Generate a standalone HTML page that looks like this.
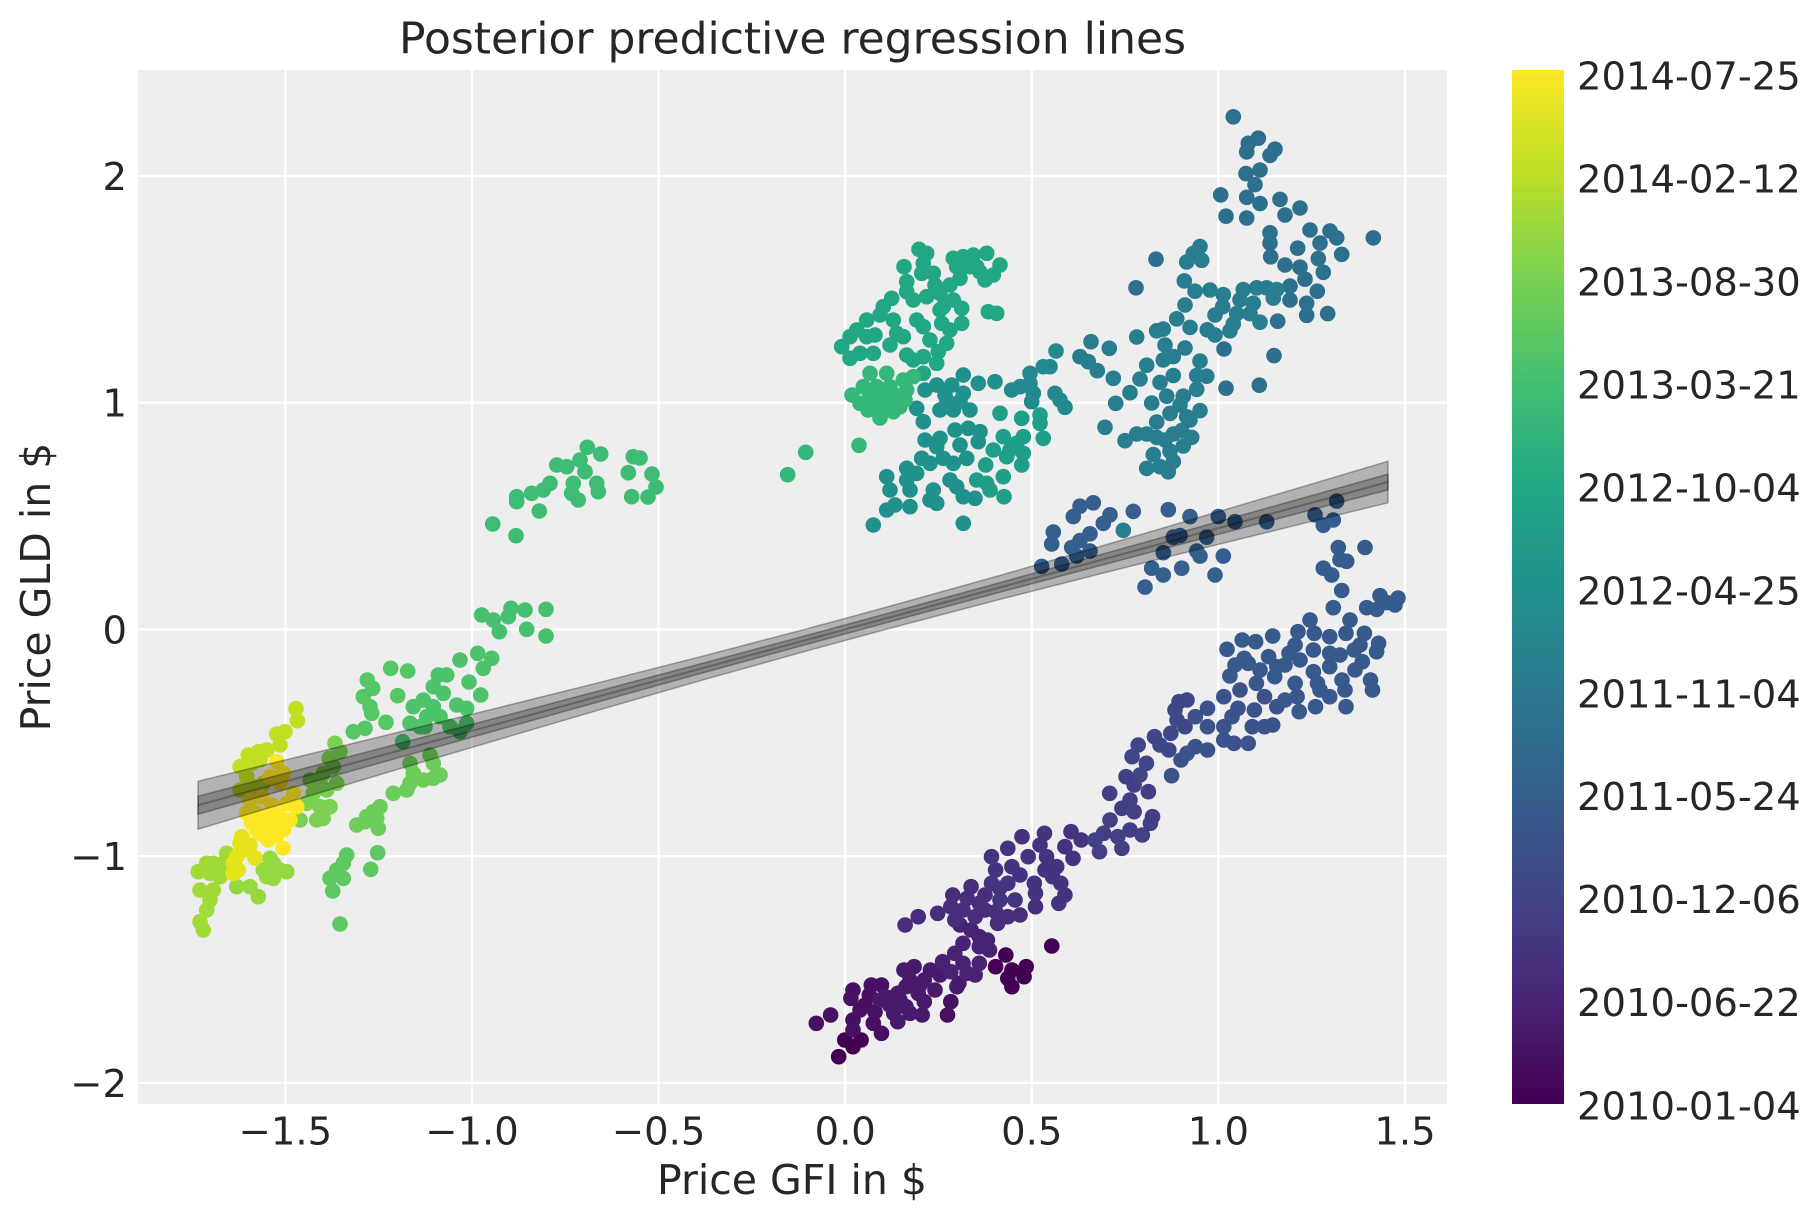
<!DOCTYPE html>
<html><head><meta charset="utf-8"><style>
html,body{margin:0;padding:0;background:#fff}
svg{display:block}
text{font-family:"DejaVu Sans","Liberation Sans",sans-serif;fill:#262626}
.t{font-size:38.5px}
</style></head><body>
<svg width="1819" height="1223" viewBox="0 0 1819 1223" xmlns="http://www.w3.org/2000/svg">
<defs>
<linearGradient id="vir" x1="0" y1="1" x2="0" y2="0">
<stop offset="0" stop-color="#440154"/><stop offset="0.1" stop-color="#482475"/><stop offset="0.2" stop-color="#414487"/><stop offset="0.3" stop-color="#355f8d"/><stop offset="0.4" stop-color="#2a788e"/><stop offset="0.5" stop-color="#21918c"/><stop offset="0.6" stop-color="#22a884"/><stop offset="0.7" stop-color="#44bf70"/><stop offset="0.8" stop-color="#7ad151"/><stop offset="0.9" stop-color="#bddf26"/><stop offset="1" stop-color="#fde725"/>
</linearGradient>
<clipPath id="ax"><rect x="138" y="70" width="1309" height="1034"/></clipPath>
</defs>
<rect width="1819" height="1223" fill="#fff"/>
<rect x="138" y="70" width="1309" height="1034" fill="#eeeeee"/>
<g stroke="#fff" stroke-width="2.2">
<line x1="285.4" y1="70" x2="285.4" y2="1104"/><line x1="472" y1="70" x2="472" y2="1104"/><line x1="658.6" y1="70" x2="658.6" y2="1104"/><line x1="845.2" y1="70" x2="845.2" y2="1104"/><line x1="1031.8" y1="70" x2="1031.8" y2="1104"/><line x1="1218.4" y1="70" x2="1218.4" y2="1104"/><line x1="1405" y1="70" x2="1405" y2="1104"/>
<line x1="138" y1="176" x2="1447" y2="176"/><line x1="138" y1="402.7" x2="1447" y2="402.7"/><line x1="138" y1="629.4" x2="1447" y2="629.4"/><line x1="138" y1="856.1" x2="1447" y2="856.1"/><line x1="138" y1="1082.8" x2="1447" y2="1082.8"/>
</g>
<g clip-path="url(#ax)">
<g fill="#440154"><circle cx="1051.8" cy="946" r="7.8"/><circle cx="1005.8" cy="955" r="7.8"/><circle cx="995.6" cy="966.7" r="7.8"/><circle cx="1011.9" cy="970" r="7.8"/><circle cx="1026.2" cy="966.7" r="7.8"/><circle cx="1024.1" cy="976.7" r="7.8"/><circle cx="1007.8" cy="978.3" r="7.8"/><circle cx="1011.9" cy="986.7" r="7.8"/><circle cx="838.7" cy="1056.7" r="7.8"/><circle cx="853" cy="1046.7" r="7.8"/><circle cx="844.8" cy="1040" r="7.8"/><circle cx="861.1" cy="1040" r="7.8"/></g>
<g fill="#471063"><circle cx="816.3" cy="1023.3" r="7.8"/><circle cx="830.6" cy="1015" r="7.8"/><circle cx="853" cy="1020" r="7.8"/><circle cx="873.3" cy="1023.3" r="7.8"/><circle cx="881.5" cy="1033.3" r="7.8"/><circle cx="853" cy="1030" r="7.8"/><circle cx="950.8" cy="1001.7" r="7.8"/><circle cx="947.5" cy="1015" r="7.8"/><circle cx="853" cy="990" r="7.8"/><circle cx="850.9" cy="998.3" r="7.8"/><circle cx="869.3" cy="995" r="7.8"/><circle cx="871.3" cy="985" r="7.8"/><circle cx="881.5" cy="985" r="7.8"/><circle cx="865" cy="1005" r="7.8"/><circle cx="875" cy="1012" r="7.8"/><circle cx="860" cy="1010" r="7.8"/></g>
<g fill="#481a6c"><circle cx="885.6" cy="996.7" r="7.8"/><circle cx="897.8" cy="993.3" r="7.8"/><circle cx="918.2" cy="993.3" r="7.8"/><circle cx="924.3" cy="1001.7" r="7.8"/><circle cx="889.6" cy="1005" r="7.8"/><circle cx="906" cy="1006.7" r="7.8"/><circle cx="893.7" cy="1013.3" r="7.8"/><circle cx="910" cy="1013.3" r="7.8"/><circle cx="922.2" cy="1015" r="7.8"/><circle cx="897.8" cy="1021.7" r="7.8"/><circle cx="910" cy="980" r="7.8"/><circle cx="906" cy="986.7" r="7.8"/><circle cx="914.1" cy="966.7" r="7.8"/><circle cx="903.9" cy="970" r="7.8"/><circle cx="924.3" cy="980" r="7.8"/><circle cx="930.4" cy="970" r="7.8"/><circle cx="958.9" cy="983.3" r="7.8"/><circle cx="956.9" cy="986.7" r="7.8"/><circle cx="900" cy="1000" r="7.8"/><circle cx="935" cy="990" r="7.8"/><circle cx="940" cy="975" r="7.8"/><circle cx="920" cy="985" r="7.8"/><circle cx="880" cy="1000" r="7.8"/></g>
<g fill="#482374"><circle cx="954.8" cy="953.3" r="7.8"/><circle cx="942.6" cy="961.7" r="7.8"/><circle cx="963" cy="963.3" r="7.8"/><circle cx="979.3" cy="963.3" r="7.8"/><circle cx="950.8" cy="971.7" r="7.8"/><circle cx="967.1" cy="973.3" r="7.8"/><circle cx="975.2" cy="975" r="7.8"/><circle cx="963" cy="943.3" r="7.8"/><circle cx="979.3" cy="946.7" r="7.8"/><circle cx="989.5" cy="950" r="7.8"/><circle cx="971.1" cy="930" r="7.8"/><circle cx="979.3" cy="936.7" r="7.8"/><circle cx="987.4" cy="940" r="7.8"/><circle cx="960" cy="925" r="7.8"/></g>
<g fill="#472d7b"><circle cx="918.2" cy="916.7" r="7.8"/><circle cx="905.1" cy="925" r="7.8"/><circle cx="937.7" cy="913.3" r="7.8"/><circle cx="954.8" cy="920" r="7.8"/><circle cx="975.2" cy="916.7" r="7.8"/><circle cx="997.6" cy="923.3" r="7.8"/><circle cx="950.8" cy="906.7" r="7.8"/><circle cx="963" cy="910" r="7.8"/><circle cx="995.6" cy="911.7" r="7.8"/><circle cx="1007.8" cy="916.7" r="7.8"/><circle cx="971.1" cy="886.7" r="7.8"/><circle cx="952.8" cy="895" r="7.8"/><circle cx="967.1" cy="898.3" r="7.8"/><circle cx="979.3" cy="903.3" r="7.8"/><circle cx="1020" cy="915" r="7.8"/><circle cx="1035.5" cy="906.7" r="7.8"/><circle cx="985" cy="910" r="7.8"/><circle cx="985" cy="895" r="7.8"/></g>
<g fill="#46337f"><circle cx="991.5" cy="856.7" r="7.8"/><circle cx="1007.8" cy="848.3" r="7.8"/><circle cx="1022" cy="836.7" r="7.8"/><circle cx="1028.2" cy="856.7" r="7.8"/><circle cx="1046.5" cy="856.7" r="7.8"/><circle cx="1056.7" cy="866.7" r="7.8"/><circle cx="995.6" cy="870" r="7.8"/><circle cx="1011.9" cy="866.7" r="7.8"/><circle cx="991.5" cy="883.3" r="7.8"/><circle cx="1007.8" cy="883.3" r="7.8"/><circle cx="1034.3" cy="883.3" r="7.8"/><circle cx="1052.6" cy="876.7" r="7.8"/><circle cx="1060.8" cy="883.3" r="7.8"/><circle cx="1064.9" cy="895" r="7.8"/><circle cx="1058.8" cy="903.3" r="7.8"/><circle cx="1035.5" cy="893.3" r="7.8"/><circle cx="999.7" cy="888.3" r="7.8"/><circle cx="1044.5" cy="833.3" r="7.8"/><circle cx="1071" cy="831.7" r="7.8"/><circle cx="1064.9" cy="846.7" r="7.8"/><circle cx="1073" cy="858.3" r="7.8"/><circle cx="1081.2" cy="840" r="7.8"/><circle cx="1000" cy="900" r="7.8"/><circle cx="1015" cy="900" r="7.8"/><circle cx="1045" cy="870" r="7.8"/><circle cx="1040" cy="845" r="7.8"/><circle cx="1020" cy="875" r="7.8"/></g>
<g fill="#423f85"><circle cx="1103.6" cy="833.3" r="7.8"/><circle cx="1117.8" cy="836.7" r="7.8"/><circle cx="1121.9" cy="848.3" r="7.8"/><circle cx="1099.5" cy="851.7" r="7.8"/><circle cx="1109.7" cy="793.3" r="7.8"/><circle cx="1121.9" cy="808.3" r="7.8"/><circle cx="1134.1" cy="811.7" r="7.8"/><circle cx="1152.5" cy="816.7" r="7.8"/><circle cx="1150.4" cy="823.3" r="7.8"/><circle cx="1142.3" cy="835" r="7.8"/><circle cx="1126" cy="776.7" r="7.8"/><circle cx="1134.1" cy="785" r="7.8"/><circle cx="1148.4" cy="791.7" r="7.8"/><circle cx="1110" cy="820" r="7.8"/><circle cx="1130" cy="800" r="7.8"/><circle cx="1130" cy="830" r="7.8"/><circle cx="1095" cy="840" r="7.8"/></g>
<g fill="#3f4788"><circle cx="1132.1" cy="756.7" r="7.8"/><circle cx="1146.4" cy="763.3" r="7.8"/><circle cx="1138.2" cy="745" r="7.8"/><circle cx="1154.5" cy="736.7" r="7.8"/><circle cx="1168.8" cy="750" r="7.8"/><circle cx="1170.8" cy="733.3" r="7.8"/><circle cx="1177" cy="720" r="7.8"/><circle cx="1185" cy="726.7" r="7.8"/><circle cx="1175" cy="710" r="7.8"/><circle cx="1179" cy="701.7" r="7.8"/><circle cx="1187" cy="700" r="7.8"/><circle cx="1140" cy="775" r="7.8"/><circle cx="1160" cy="745" r="7.8"/></g>
<g fill="#3b528b"><circle cx="1171.6" cy="775.7" r="7.8"/><circle cx="1181" cy="760" r="7.8"/><circle cx="1187.1" cy="753.3" r="7.8"/><circle cx="1195.3" cy="746.7" r="7.8"/><circle cx="1207.5" cy="750" r="7.8"/><circle cx="1223.8" cy="740" r="7.8"/><circle cx="1234" cy="743.3" r="7.8"/><circle cx="1248.2" cy="743.3" r="7.8"/><circle cx="1207.5" cy="726.7" r="7.8"/><circle cx="1223.8" cy="726.7" r="7.8"/><circle cx="1252.3" cy="726.7" r="7.8"/><circle cx="1264.5" cy="726.7" r="7.8"/><circle cx="1272.7" cy="725" r="7.8"/><circle cx="1195.3" cy="716.7" r="7.8"/><circle cx="1207.5" cy="708.3" r="7.8"/><circle cx="1232" cy="716.7" r="7.8"/><circle cx="1238" cy="708.3" r="7.8"/><circle cx="1254.4" cy="710" r="7.8"/><circle cx="1223.8" cy="696.7" r="7.8"/><circle cx="1240" cy="690" r="7.8"/><circle cx="1264.5" cy="696.7" r="7.8"/><circle cx="1276.8" cy="706.7" r="7.8"/></g>
<g fill="#38598c"><circle cx="1297.1" cy="696.7" r="7.8"/><circle cx="1315.5" cy="706.7" r="7.8"/><circle cx="1346" cy="706.7" r="7.8"/><circle cx="1329.7" cy="696.7" r="7.8"/><circle cx="1299.2" cy="711.7" r="7.8"/><circle cx="1229.9" cy="676" r="7.8"/><circle cx="1274.7" cy="676.7" r="7.8"/><circle cx="1256.4" cy="683.3" r="7.8"/><circle cx="1295.1" cy="683.3" r="7.8"/><circle cx="1317.5" cy="683.3" r="7.8"/><circle cx="1342" cy="680" r="7.8"/><circle cx="1370.5" cy="680" r="7.8"/><circle cx="1372.5" cy="690" r="7.8"/><circle cx="1276.8" cy="666.7" r="7.8"/><circle cx="1313.4" cy="671.7" r="7.8"/><circle cx="1329.7" cy="666.7" r="7.8"/><circle cx="1244.2" cy="658.3" r="7.8"/><circle cx="1248.2" cy="663.3" r="7.8"/><circle cx="1268.6" cy="656.7" r="7.8"/><circle cx="1289" cy="653.3" r="7.8"/><circle cx="1295.1" cy="645" r="7.8"/><circle cx="1313.4" cy="650" r="7.8"/><circle cx="1329.7" cy="653.3" r="7.8"/><circle cx="1354.2" cy="650" r="7.8"/><circle cx="1362.3" cy="661.7" r="7.8"/><circle cx="1227" cy="649.3" r="7.8"/><circle cx="1242.2" cy="640" r="7.8"/><circle cx="1255.6" cy="641.7" r="7.8"/><circle cx="1272.7" cy="636" r="7.8"/><circle cx="1298" cy="631.7" r="7.8"/><circle cx="1314.3" cy="633.3" r="7.8"/><circle cx="1329.7" cy="636.7" r="7.8"/><circle cx="1346" cy="633.3" r="7.8"/><circle cx="1364.4" cy="633.3" r="7.8"/><circle cx="1378.6" cy="643.3" r="7.8"/><circle cx="1376.6" cy="651.7" r="7.8"/><circle cx="1285" cy="665" r="7.8"/><circle cx="1300" cy="660" r="7.8"/><circle cx="1345" cy="690" r="7.8"/><circle cx="1355" cy="670" r="7.8"/><circle cx="1285" cy="700" r="7.8"/><circle cx="1260" cy="670" r="7.8"/><circle cx="1235" cy="665" r="7.8"/><circle cx="1320" cy="690" r="7.8"/><circle cx="1360" cy="645" r="7.8"/><circle cx="1340" cy="655" r="7.8"/><circle cx="1350" cy="620" r="7.8"/><circle cx="1310" cy="620" r="7.8"/></g>
<g fill="#365c8d"><circle cx="1333.3" cy="607.7" r="7.8"/><circle cx="1366.7" cy="607.7" r="7.8"/><circle cx="1380" cy="595.7" r="7.8"/><circle cx="1386.7" cy="602.6" r="7.8"/><circle cx="1376.7" cy="609.4" r="7.8"/><circle cx="1395" cy="605" r="7.8"/><circle cx="1398" cy="598" r="7.8"/><circle cx="1341.7" cy="590.5" r="7.8"/><circle cx="1323.3" cy="568.2" r="7.8"/><circle cx="1331.7" cy="575" r="7.8"/><circle cx="1338.3" cy="547.5" r="7.8"/><circle cx="1365" cy="547.5" r="7.8"/><circle cx="1340" cy="559.6" r="7.8"/><circle cx="1346.7" cy="561.3" r="7.8"/><circle cx="1315" cy="514.8" r="7.8"/><circle cx="1336.7" cy="501.1" r="7.8"/><circle cx="1333.3" cy="520" r="7.8"/><circle cx="1323.3" cy="525.2" r="7.8"/></g>
<g fill="#355f8d"><circle cx="1080" cy="506.2" r="7.8"/><circle cx="1093.3" cy="502.8" r="7.8"/><circle cx="1073.3" cy="516.6" r="7.8"/><circle cx="1110" cy="514.8" r="7.8"/><circle cx="1133.3" cy="511.4" r="7.8"/><circle cx="1168.3" cy="509.7" r="7.8"/><circle cx="1190" cy="516.6" r="7.8"/><circle cx="1218.3" cy="516.6" r="7.8"/><circle cx="1235" cy="521.7" r="7.8"/><circle cx="1266.7" cy="521.7" r="7.8"/><circle cx="1053.3" cy="532" r="7.8"/><circle cx="1051.7" cy="544" r="7.8"/><circle cx="1090" cy="533.8" r="7.8"/><circle cx="1103.3" cy="523.4" r="7.8"/><circle cx="1080" cy="540.6" r="7.8"/><circle cx="1071.7" cy="547.5" r="7.8"/><circle cx="1090" cy="551" r="7.8"/><circle cx="1076.7" cy="556.1" r="7.8"/><circle cx="1061.7" cy="564" r="7.8"/><circle cx="1041.7" cy="566.4" r="7.8"/><circle cx="1180" cy="535.5" r="7.8"/><circle cx="1173.3" cy="537.2" r="7.8"/><circle cx="1206.7" cy="537.2" r="7.8"/><circle cx="1196.7" cy="551" r="7.8"/><circle cx="1200" cy="556.1" r="7.8"/><circle cx="1163.3" cy="552.7" r="7.8"/><circle cx="1223.3" cy="556.1" r="7.8"/><circle cx="1151.7" cy="568.2" r="7.8"/><circle cx="1163.3" cy="575" r="7.8"/><circle cx="1181.7" cy="568.2" r="7.8"/><circle cx="1215" cy="575" r="7.8"/><circle cx="1145" cy="587.1" r="7.8"/></g>
<g fill="#2d708e"><circle cx="1233.3" cy="116.8" r="7.8"/><circle cx="1248.3" cy="143.3" r="7.8"/><circle cx="1258.3" cy="138.2" r="7.8"/><circle cx="1246.7" cy="151.9" r="7.8"/><circle cx="1275" cy="149.2" r="7.8"/><circle cx="1270" cy="155.4" r="7.8"/><circle cx="1246" cy="173.6" r="7.8"/><circle cx="1255" cy="184.6" r="7.8"/><circle cx="1220.7" cy="194.9" r="7.8"/><circle cx="1246.7" cy="197.3" r="7.8"/><circle cx="1260" cy="203.5" r="7.8"/><circle cx="1280" cy="199.4" r="7.8"/><circle cx="1300" cy="208" r="7.8"/><circle cx="1226" cy="216.2" r="7.8"/><circle cx="1246.7" cy="218" r="7.8"/><circle cx="1270" cy="232.8" r="7.8"/><circle cx="1270" cy="243.1" r="7.8"/><circle cx="1270.7" cy="256.8" r="7.8"/><circle cx="1330" cy="231" r="7.8"/><circle cx="1336.7" cy="237.9" r="7.8"/><circle cx="1373.3" cy="237.9" r="7.8"/><circle cx="1297.7" cy="248.2" r="7.8"/><circle cx="1320" cy="243.1" r="7.8"/><circle cx="1341.7" cy="254.4" r="7.8"/><circle cx="1318.3" cy="258.6" r="7.8"/><circle cx="1300" cy="267.2" r="7.8"/><circle cx="1323.3" cy="272.3" r="7.8"/><circle cx="1305" cy="279.2" r="7.8"/><circle cx="1290" cy="286.1" r="7.8"/><circle cx="1317.3" cy="291.2" r="7.8"/><circle cx="1306.7" cy="303.3" r="7.8"/><circle cx="1306.7" cy="315.3" r="7.8"/><circle cx="1327.7" cy="313.6" r="7.8"/><circle cx="1277.7" cy="321.2" r="7.8"/><circle cx="1274" cy="355.6" r="7.8"/><circle cx="1259.3" cy="385.2" r="7.8"/><circle cx="1226" cy="388.2" r="7.8"/><circle cx="1224" cy="349" r="7.8"/><circle cx="1156" cy="259.2" r="7.8"/><circle cx="1136" cy="287.8" r="7.8"/><circle cx="1260" cy="170" r="7.8"/><circle cx="1285" cy="215" r="7.8"/><circle cx="1310" cy="230" r="7.8"/><circle cx="1290" cy="300" r="7.8"/><circle cx="1285" cy="265" r="7.8"/></g>
<g fill="#287d8e"><circle cx="1200" cy="246.5" r="7.8"/><circle cx="1193.3" cy="253.4" r="7.8"/><circle cx="1186.7" cy="262" r="7.8"/><circle cx="1201.7" cy="260.3" r="7.8"/><circle cx="1184.3" cy="280.9" r="7.8"/><circle cx="1195" cy="291.2" r="7.8"/><circle cx="1223.3" cy="294.7" r="7.8"/><circle cx="1222.7" cy="306.7" r="7.8"/><circle cx="1243.3" cy="289.5" r="7.8"/><circle cx="1256.7" cy="287.8" r="7.8"/><circle cx="1266.7" cy="287.8" r="7.8"/><circle cx="1276.7" cy="289.5" r="7.8"/><circle cx="1240" cy="299.8" r="7.8"/><circle cx="1253.3" cy="303.3" r="7.8"/><circle cx="1273.3" cy="298.1" r="7.8"/><circle cx="1236.7" cy="313.6" r="7.8"/><circle cx="1250" cy="313.6" r="7.8"/><circle cx="1260" cy="322.2" r="7.8"/><circle cx="1233.3" cy="323.9" r="7.8"/><circle cx="1230" cy="330.8" r="7.8"/><circle cx="1176.7" cy="318.8" r="7.8"/><circle cx="1190" cy="327.4" r="7.8"/><circle cx="1207.3" cy="329.8" r="7.8"/><circle cx="1163.3" cy="329.1" r="7.8"/><circle cx="1156.7" cy="330.8" r="7.8"/><circle cx="1136.7" cy="337" r="7.8"/><circle cx="1185" cy="348" r="7.8"/><circle cx="1173.3" cy="356.6" r="7.8"/><circle cx="1163.3" cy="360" r="7.8"/><circle cx="1146.7" cy="365.2" r="7.8"/><circle cx="1200" cy="361.1" r="7.8"/><circle cx="1206.7" cy="376.2" r="7.8"/><circle cx="1196.7" cy="375.5" r="7.8"/><circle cx="1173.3" cy="375.5" r="7.8"/><circle cx="1160" cy="382.4" r="7.8"/><circle cx="1140" cy="379" r="7.8"/><circle cx="1130" cy="392.7" r="7.8"/><circle cx="1196.7" cy="389.3" r="7.8"/><circle cx="1183.3" cy="396.2" r="7.8"/><circle cx="1166.7" cy="396.2" r="7.8"/><circle cx="1151.7" cy="403" r="7.8"/><circle cx="1200" cy="410.6" r="7.8"/><circle cx="1186.7" cy="416.8" r="7.8"/><circle cx="1170" cy="413.4" r="7.8"/><circle cx="1156.7" cy="422" r="7.8"/><circle cx="1136.7" cy="434" r="7.8"/><circle cx="1146.7" cy="434" r="7.8"/><circle cx="1156.7" cy="437.4" r="7.8"/><circle cx="1173.3" cy="434" r="7.8"/><circle cx="1181.7" cy="430.6" r="7.8"/><circle cx="1191.7" cy="437.4" r="7.8"/><circle cx="1183.3" cy="446" r="7.8"/><circle cx="1170" cy="451.2" r="7.8"/><circle cx="1153.3" cy="454.6" r="7.8"/><circle cx="1173.3" cy="461.5" r="7.8"/><circle cx="1146.7" cy="468.4" r="7.8"/><circle cx="1160" cy="466.7" r="7.8"/><circle cx="1168.3" cy="471.8" r="7.8"/><circle cx="1123.3" cy="530.3" r="7.8"/><circle cx="1091" cy="341.7" r="7.8"/><circle cx="1109.3" cy="348.3" r="7.8"/><circle cx="1080" cy="356.7" r="7.8"/><circle cx="1088.3" cy="361.7" r="7.8"/><circle cx="1097.3" cy="370.7" r="7.8"/><circle cx="1113.3" cy="378.3" r="7.8"/><circle cx="1115.7" cy="403.3" r="7.8"/><circle cx="1105" cy="427.3" r="7.8"/><circle cx="1125" cy="440.7" r="7.8"/><circle cx="1215" cy="315" r="7.8"/><circle cx="1210" cy="290" r="7.8"/><circle cx="1185" cy="305" r="7.8"/><circle cx="1165" cy="345" r="7.8"/><circle cx="1180" cy="405" r="7.8"/><circle cx="1165" cy="440" r="7.8"/><circle cx="1190" cy="420" r="7.8"/><circle cx="1215" cy="335" r="7.8"/></g>
<g fill="#23898e"><circle cx="1011.7" cy="390" r="7.8"/><circle cx="1020" cy="386.7" r="7.8"/><circle cx="1030" cy="373.3" r="7.8"/><circle cx="1030" cy="383.3" r="7.8"/><circle cx="1033.3" cy="393.3" r="7.8"/><circle cx="1031.7" cy="401.7" r="7.8"/><circle cx="1043.3" cy="366.7" r="7.8"/><circle cx="1050" cy="366.7" r="7.8"/><circle cx="1056" cy="351" r="7.8"/><circle cx="1055" cy="393.3" r="7.8"/><circle cx="1060" cy="400" r="7.8"/><circle cx="1065" cy="407.3" r="7.8"/></g>
<g fill="#21918c"><circle cx="925" cy="390" r="7.8"/><circle cx="936.7" cy="385" r="7.8"/><circle cx="951.7" cy="385" r="7.8"/><circle cx="963.3" cy="375" r="7.8"/><circle cx="978.3" cy="383.3" r="7.8"/><circle cx="995" cy="381.7" r="7.8"/><circle cx="916.7" cy="408.3" r="7.8"/><circle cx="946.7" cy="400" r="7.8"/><circle cx="960" cy="401.7" r="7.8"/><circle cx="963.3" cy="393.3" r="7.8"/><circle cx="923.3" cy="421.7" r="7.8"/><circle cx="940" cy="410" r="7.8"/><circle cx="953.3" cy="410" r="7.8"/><circle cx="968.3" cy="428.3" r="7.8"/><circle cx="980" cy="431.7" r="7.8"/><circle cx="978.3" cy="441.7" r="7.8"/><circle cx="940" cy="438.3" r="7.8"/><circle cx="936.7" cy="446.7" r="7.8"/><circle cx="921.7" cy="458.3" r="7.8"/><circle cx="906.7" cy="468.3" r="7.8"/><circle cx="886.7" cy="476.7" r="7.8"/><circle cx="890" cy="490" r="7.8"/><circle cx="906.7" cy="480" r="7.8"/><circle cx="916.7" cy="473.3" r="7.8"/><circle cx="930" cy="463.3" r="7.8"/><circle cx="943.3" cy="458.3" r="7.8"/><circle cx="953.3" cy="463.3" r="7.8"/><circle cx="966.7" cy="458.3" r="7.8"/><circle cx="950" cy="480" r="7.8"/><circle cx="956.7" cy="486.7" r="7.8"/><circle cx="933.3" cy="490" r="7.8"/><circle cx="930" cy="500" r="7.8"/><circle cx="936.7" cy="503.3" r="7.8"/><circle cx="910" cy="506.7" r="7.8"/><circle cx="895" cy="505" r="7.8"/><circle cx="886.7" cy="510" r="7.8"/><circle cx="873.3" cy="525" r="7.8"/><circle cx="963.3" cy="496.7" r="7.8"/><circle cx="975" cy="498.3" r="7.8"/><circle cx="963.3" cy="523.3" r="7.8"/><circle cx="955" cy="430" r="7.8"/><circle cx="960" cy="445" r="7.8"/><circle cx="925" cy="440" r="7.8"/><circle cx="910" cy="490" r="7.8"/><circle cx="945" cy="395" r="7.8"/><circle cx="970" cy="410" r="7.8"/></g>
<g fill="#1f9e89"><circle cx="1000" cy="413.3" r="7.8"/><circle cx="1021.7" cy="418.3" r="7.8"/><circle cx="1040" cy="415" r="7.8"/><circle cx="1040" cy="423.3" r="7.8"/><circle cx="1043.3" cy="438.3" r="7.8"/><circle cx="1003.3" cy="436.7" r="7.8"/><circle cx="1010" cy="450" r="7.8"/><circle cx="1016.7" cy="443.3" r="7.8"/><circle cx="1006.7" cy="456.7" r="7.8"/><circle cx="1023.3" cy="453.3" r="7.8"/><circle cx="1021.7" cy="465" r="7.8"/><circle cx="1023.3" cy="436.7" r="7.8"/><circle cx="993.3" cy="450" r="7.8"/><circle cx="985.7" cy="465" r="7.8"/><circle cx="1003.3" cy="476.7" r="7.8"/><circle cx="990" cy="490" r="7.8"/><circle cx="1004" cy="496.7" r="7.8"/><circle cx="976.7" cy="480" r="7.8"/><circle cx="986.7" cy="483.3" r="7.8"/></g>
<g fill="#22a785"><circle cx="919" cy="249.3" r="7.8"/><circle cx="926.7" cy="253.3" r="7.8"/><circle cx="904" cy="266.7" r="7.8"/><circle cx="923.3" cy="263.3" r="7.8"/><circle cx="921.7" cy="273.3" r="7.8"/><circle cx="933.3" cy="273.3" r="7.8"/><circle cx="906.7" cy="281.7" r="7.8"/><circle cx="953.3" cy="258.3" r="7.8"/><circle cx="963.3" cy="256.7" r="7.8"/><circle cx="973.3" cy="255" r="7.8"/><circle cx="986.7" cy="253.3" r="7.8"/><circle cx="956.7" cy="266.7" r="7.8"/><circle cx="970" cy="266.7" r="7.8"/><circle cx="976.7" cy="266.7" r="7.8"/><circle cx="1000" cy="265" r="7.8"/><circle cx="960" cy="278.3" r="7.8"/><circle cx="993.3" cy="275" r="7.8"/><circle cx="985" cy="280" r="7.8"/><circle cx="988.3" cy="311.7" r="7.8"/><circle cx="996.7" cy="313.3" r="7.8"/><circle cx="906.7" cy="291.7" r="7.8"/><circle cx="891.7" cy="298.3" r="7.8"/><circle cx="883.3" cy="306.7" r="7.8"/><circle cx="880" cy="315" r="7.8"/><circle cx="866.7" cy="320" r="7.8"/><circle cx="856.7" cy="330" r="7.8"/><circle cx="850" cy="336.7" r="7.8"/><circle cx="841.7" cy="346.7" r="7.8"/><circle cx="850" cy="358.3" r="7.8"/><circle cx="860" cy="353.3" r="7.8"/><circle cx="873.3" cy="353.3" r="7.8"/><circle cx="866.7" cy="336.7" r="7.8"/><circle cx="893.3" cy="320" r="7.8"/><circle cx="896.7" cy="333.3" r="7.8"/><circle cx="903.3" cy="336.7" r="7.8"/><circle cx="913.3" cy="300" r="7.8"/><circle cx="926.7" cy="296.7" r="7.8"/><circle cx="940" cy="293.3" r="7.8"/><circle cx="916.7" cy="320" r="7.8"/><circle cx="923.3" cy="326.7" r="7.8"/><circle cx="943.3" cy="306.7" r="7.8"/><circle cx="953.3" cy="300" r="7.8"/><circle cx="961.7" cy="308.3" r="7.8"/><circle cx="941.7" cy="323.3" r="7.8"/><circle cx="950" cy="330" r="7.8"/><circle cx="961.7" cy="323.3" r="7.8"/><circle cx="946.7" cy="343.3" r="7.8"/><circle cx="938.3" cy="351.7" r="7.8"/><circle cx="936.7" cy="363.3" r="7.8"/><circle cx="906.7" cy="355" r="7.8"/><circle cx="913.3" cy="360" r="7.8"/><circle cx="923.3" cy="356.7" r="7.8"/><circle cx="923.3" cy="373.3" r="7.8"/><circle cx="935" cy="285" r="7.8"/><circle cx="950" cy="285" r="7.8"/><circle cx="940" cy="310" r="7.8"/><circle cx="930" cy="340" r="7.8"/><circle cx="890" cy="345" r="7.8"/><circle cx="875" cy="335" r="7.8"/><circle cx="980" cy="272" r="7.8"/></g>
<g fill="#35b779"><circle cx="870" cy="373.3" r="7.8"/><circle cx="886.7" cy="373.3" r="7.8"/><circle cx="863.3" cy="386.7" r="7.8"/><circle cx="876.7" cy="386.7" r="7.8"/><circle cx="890" cy="386.7" r="7.8"/><circle cx="903.3" cy="380" r="7.8"/><circle cx="913.3" cy="376.7" r="7.8"/><circle cx="906.7" cy="390" r="7.8"/><circle cx="860" cy="403.3" r="7.8"/><circle cx="876.7" cy="400" r="7.8"/><circle cx="890" cy="400" r="7.8"/><circle cx="900" cy="406.7" r="7.8"/><circle cx="883.3" cy="410" r="7.8"/><circle cx="893.3" cy="411.7" r="7.8"/><circle cx="880" cy="393" r="7.8"/><circle cx="895" cy="395" r="7.8"/><circle cx="870" cy="395" r="7.8"/><circle cx="852" cy="395" r="7.8"/><circle cx="868" cy="410" r="7.8"/><circle cx="880" cy="418" r="7.8"/><circle cx="905" cy="400" r="7.8"/><circle cx="805.7" cy="452.3" r="7.8"/><circle cx="787.7" cy="474.7" r="7.8"/><circle cx="859" cy="445.3" r="7.8"/></g>
<g fill="#3fbc73"><circle cx="587.3" cy="447.3" r="7.8"/><circle cx="600.7" cy="454" r="7.8"/><circle cx="580" cy="460" r="7.8"/><circle cx="556.7" cy="465" r="7.8"/><circle cx="566.7" cy="466.7" r="7.8"/><circle cx="585" cy="471.7" r="7.8"/><circle cx="573.3" cy="483.3" r="7.8"/><circle cx="596.7" cy="483.3" r="7.8"/><circle cx="598.3" cy="491.7" r="7.8"/><circle cx="578.3" cy="500" r="7.8"/><circle cx="571.7" cy="493.3" r="7.8"/><circle cx="550" cy="483.3" r="7.8"/><circle cx="543.3" cy="490" r="7.8"/><circle cx="531.7" cy="493.3" r="7.8"/><circle cx="516.7" cy="496.7" r="7.8"/><circle cx="516.7" cy="501.7" r="7.8"/><circle cx="539.3" cy="511" r="7.8"/><circle cx="492.7" cy="524" r="7.8"/><circle cx="516" cy="535.7" r="7.8"/><circle cx="633.3" cy="456.7" r="7.8"/><circle cx="628.3" cy="472.7" r="7.8"/><circle cx="631.7" cy="496.7" r="7.8"/><circle cx="640" cy="458" r="7.8"/><circle cx="652" cy="474" r="7.8"/><circle cx="648" cy="497" r="7.8"/><circle cx="656" cy="487" r="7.8"/></g>
<g fill="#46c06f"><circle cx="481.7" cy="615" r="7.8"/><circle cx="493.3" cy="620" r="7.8"/><circle cx="499.3" cy="631.7" r="7.8"/><circle cx="511" cy="608.3" r="7.8"/><circle cx="508.3" cy="616.7" r="7.8"/><circle cx="525" cy="610" r="7.8"/><circle cx="526.7" cy="629.3" r="7.8"/><circle cx="546" cy="609.3" r="7.8"/><circle cx="546" cy="636" r="7.8"/></g>
<g fill="#4ec36b"><circle cx="460" cy="660" r="7.8"/><circle cx="477.7" cy="653.3" r="7.8"/><circle cx="491.7" cy="658.3" r="7.8"/><circle cx="483.3" cy="668.3" r="7.8"/><circle cx="469" cy="682" r="7.8"/><circle cx="480.7" cy="695" r="7.8"/><circle cx="438.3" cy="675" r="7.8"/><circle cx="446.7" cy="675" r="7.8"/><circle cx="433.3" cy="686.7" r="7.8"/><circle cx="443.3" cy="693.3" r="7.8"/><circle cx="456.7" cy="705" r="7.8"/><circle cx="466.7" cy="708.3" r="7.8"/><circle cx="413.3" cy="706.7" r="7.8"/><circle cx="423.3" cy="700" r="7.8"/><circle cx="433.3" cy="706.7" r="7.8"/><circle cx="426.7" cy="716.7" r="7.8"/><circle cx="440" cy="716.7" r="7.8"/><circle cx="410" cy="723.3" r="7.8"/><circle cx="420" cy="726.7" r="7.8"/><circle cx="450" cy="726.7" r="7.8"/><circle cx="460" cy="731.7" r="7.8"/><circle cx="466.7" cy="723.3" r="7.8"/><circle cx="425" cy="726.7" r="7.8"/><circle cx="402.7" cy="741.7" r="7.8"/></g>
<g fill="#56c667"><circle cx="390.7" cy="668.3" r="7.8"/><circle cx="407.7" cy="671" r="7.8"/><circle cx="397.7" cy="695.7" r="7.8"/><circle cx="367.3" cy="680" r="7.8"/><circle cx="372.7" cy="688.3" r="7.8"/><circle cx="363.3" cy="696.7" r="7.8"/><circle cx="370" cy="706.7" r="7.8"/><circle cx="371.7" cy="713.3" r="7.8"/><circle cx="386" cy="722.3" r="7.8"/><circle cx="365" cy="728.3" r="7.8"/><circle cx="353.3" cy="731.7" r="7.8"/></g>
<g fill="#5ec962"><circle cx="346.7" cy="855" r="7.8"/><circle cx="343.3" cy="863.3" r="7.8"/><circle cx="336.7" cy="870" r="7.8"/><circle cx="330" cy="878.3" r="7.8"/><circle cx="343.3" cy="878.3" r="7.8"/><circle cx="332.7" cy="891" r="7.8"/><circle cx="377.7" cy="852.7" r="7.8"/><circle cx="370.7" cy="869.3" r="7.8"/><circle cx="340" cy="924" r="7.8"/></g>
<g fill="#6ccd5a"><circle cx="410" cy="763.3" r="7.8"/><circle cx="430" cy="755" r="7.8"/><circle cx="433.3" cy="763.3" r="7.8"/><circle cx="413.3" cy="773.3" r="7.8"/><circle cx="423.3" cy="780" r="7.8"/><circle cx="440" cy="775" r="7.8"/><circle cx="433.3" cy="778.3" r="7.8"/><circle cx="410" cy="783.3" r="7.8"/><circle cx="393.3" cy="793.3" r="7.8"/><circle cx="406.7" cy="790" r="7.8"/><circle cx="380" cy="806.7" r="7.8"/><circle cx="373.3" cy="811.7" r="7.8"/><circle cx="366.7" cy="816.7" r="7.8"/><circle cx="376.7" cy="818.3" r="7.8"/><circle cx="356.7" cy="825" r="7.8"/><circle cx="378.3" cy="828.3" r="7.8"/><circle cx="365" cy="821.7" r="7.8"/></g>
<g fill="#7ad151"><circle cx="335" cy="743.3" r="7.8"/><circle cx="340" cy="751.7" r="7.8"/><circle cx="329.3" cy="758.3" r="7.8"/><circle cx="333.3" cy="766.7" r="7.8"/><circle cx="323.3" cy="773.3" r="7.8"/><circle cx="320" cy="783.3" r="7.8"/><circle cx="326.7" cy="790" r="7.8"/><circle cx="336.7" cy="783.3" r="7.8"/><circle cx="310" cy="780" r="7.8"/><circle cx="313.3" cy="793.3" r="7.8"/><circle cx="306.7" cy="803.3" r="7.8"/><circle cx="320" cy="806.7" r="7.8"/><circle cx="330" cy="806.7" r="7.8"/><circle cx="300" cy="820" r="7.8"/><circle cx="316.7" cy="820" r="7.8"/><circle cx="323.3" cy="818.3" r="7.8"/></g>
<g fill="#a2da37"><circle cx="226.7" cy="853.3" r="7.8"/><circle cx="223.3" cy="863.3" r="7.8"/><circle cx="213.3" cy="863.3" r="7.8"/><circle cx="206.7" cy="863.3" r="7.8"/><circle cx="198.3" cy="871.7" r="7.8"/><circle cx="210" cy="873.3" r="7.8"/><circle cx="220" cy="876.7" r="7.8"/><circle cx="200" cy="890" r="7.8"/><circle cx="213.3" cy="890" r="7.8"/><circle cx="210" cy="900" r="7.8"/><circle cx="206.7" cy="910" r="7.8"/><circle cx="200" cy="921.7" r="7.8"/><circle cx="203.3" cy="930" r="7.8"/></g>
<g fill="#95d840"><circle cx="236.7" cy="886.7" r="7.8"/><circle cx="250" cy="886.7" r="7.8"/><circle cx="258.3" cy="896.7" r="7.8"/><circle cx="266.7" cy="876.7" r="7.8"/><circle cx="273.3" cy="863.3" r="7.8"/><circle cx="280" cy="870" r="7.8"/><circle cx="286.7" cy="871.7" r="7.8"/><circle cx="270" cy="858.3" r="7.8"/><circle cx="263.3" cy="870" r="7.8"/><circle cx="273.3" cy="878.3" r="7.8"/></g>
<g fill="#c2df23"><circle cx="296" cy="708.7" r="7.8"/><circle cx="297.3" cy="720.7" r="7.8"/><circle cx="276.7" cy="734" r="7.8"/><circle cx="285" cy="731.7" r="7.8"/><circle cx="280" cy="745" r="7.8"/><circle cx="248.3" cy="755" r="7.8"/><circle cx="258.3" cy="751.7" r="7.8"/><circle cx="266.7" cy="750" r="7.8"/><circle cx="240" cy="766.7" r="7.8"/><circle cx="251.7" cy="763.3" r="7.8"/><circle cx="260" cy="760" r="7.8"/><circle cx="246.7" cy="776.7" r="7.8"/><circle cx="240" cy="790" r="7.8"/><circle cx="253.3" cy="786.7" r="7.8"/><circle cx="263.3" cy="783.3" r="7.8"/></g>
<g fill="#e5e419"><circle cx="241.7" cy="836.7" r="7.8"/><circle cx="240" cy="843.3" r="7.8"/><circle cx="243.3" cy="850" r="7.8"/><circle cx="236.7" cy="856.7" r="7.8"/><circle cx="233.3" cy="863.3" r="7.8"/><circle cx="238.3" cy="870" r="7.8"/><circle cx="233.3" cy="873.3" r="7.8"/><circle cx="255" cy="858" r="7.8"/><circle cx="250" cy="845" r="7.8"/></g>
<g fill="#fde725"><circle cx="276.7" cy="761.7" r="7.8"/><circle cx="283.3" cy="773.3" r="7.8"/><circle cx="270" cy="776.7" r="7.8"/><circle cx="280" cy="783.3" r="7.8"/><circle cx="293.3" cy="793.3" r="7.8"/><circle cx="286.7" cy="803.3" r="7.8"/><circle cx="296.7" cy="806.7" r="7.8"/><circle cx="246.7" cy="813.3" r="7.8"/><circle cx="256.7" cy="813.3" r="7.8"/><circle cx="266.7" cy="816.7" r="7.8"/><circle cx="280" cy="816.7" r="7.8"/><circle cx="251.7" cy="823.3" r="7.8"/><circle cx="263.3" cy="823.3" r="7.8"/><circle cx="270" cy="826.7" r="7.8"/><circle cx="283.3" cy="830" r="7.8"/><circle cx="260" cy="833.3" r="7.8"/><circle cx="276.7" cy="835" r="7.8"/><circle cx="256.7" cy="830" r="7.8"/><circle cx="250" cy="800" r="7.8"/><circle cx="262" cy="797" r="7.8"/><circle cx="272" cy="805" r="7.8"/><circle cx="290" cy="820" r="7.8"/><circle cx="268" cy="840" r="7.8"/><circle cx="283" cy="848" r="7.8"/></g>
<polygon fill="rgba(0,0,0,0.25)" stroke="rgba(0,0,0,0.3)" stroke-width="1.5" points="198,781.2 300,756.4 400,731.9 500,707.3 600,682.3 700,656.8 800,630.6 850,617.1 900,603.4 1000,575.4 1100,546.5 1200,517.1 1300,487.5 1388,461.2 1388,502.8 1300,524.3 1200,548.9 1100,573.9 1000,599.4 900,625.6 850,639.1 800,652.8 700,680.8 600,709.7 500,739.1 400,768.7 300,798.6 198,829.2"/>
<polygon fill="rgba(0,0,0,0.25)" stroke="rgba(0,0,0,0.3)" stroke-width="1.5" points="198,796.2 300,769.5 400,743.3 500,717 600,690.6 700,664 800,637.2 850,623.6 900,610 1000,582.6 1100,554.8 1200,526.8 1300,498.9 1388,474.1 1388,489.9 1300,512.9 1200,539.2 1100,565.6 1000,592.2 900,619 850,632.6 800,646.2 700,673.6 600,701.4 500,729.4 400,757.3 300,785.5 198,814.2"/>
<line x1="198" y1="805.2" x2="1388" y2="482" stroke="rgba(0,0,0,0.25)" stroke-width="2"/>
</g>
<text x="792.5" y="53.3" text-anchor="middle" style="font-size:44px">Posterior predictive regression lines</text>
<g class="t" text-anchor="middle">
<text x="285.4" y="1144.5">−1.5</text><text x="472" y="1144.5">−1.0</text><text x="658.6" y="1144.5">−0.5</text><text x="845.2" y="1144.5">0.0</text><text x="1031.8" y="1144.5">0.5</text><text x="1218.4" y="1144.5">1.0</text><text x="1405" y="1144.5">1.5</text>
</g>
<g class="t" text-anchor="end">
<text x="127" y="190">2</text><text x="127" y="416.7">1</text><text x="127" y="643.4">0</text><text x="127" y="870.1">−1</text><text x="127" y="1096.8">−2</text>
</g>
<text x="792" y="1194" text-anchor="middle" style="font-size:41px">Price GFI in $</text>
<text x="-587" y="50" transform="rotate(-90)" text-anchor="middle" style="font-size:41px">Price GLD in $</text>
<rect x="1512" y="70" width="52" height="1034" fill="url(#vir)"/>
<g class="t">
<text x="1577" y="89.7">2014-07-25</text><text x="1577" y="192.6">2014-02-12</text><text x="1577" y="295.6">2013-08-30</text><text x="1577" y="398.5">2013-03-21</text><text x="1577" y="501.4">2012-10-04</text><text x="1577" y="604.4">2012-04-25</text><text x="1577" y="707.3">2011-11-04</text><text x="1577" y="810.2">2011-05-24</text><text x="1577" y="913.1">2010-12-06</text><text x="1577" y="1016.1">2010-06-22</text><text x="1577" y="1119.7">2010-01-04</text>
</g>
</svg>
</body></html>
